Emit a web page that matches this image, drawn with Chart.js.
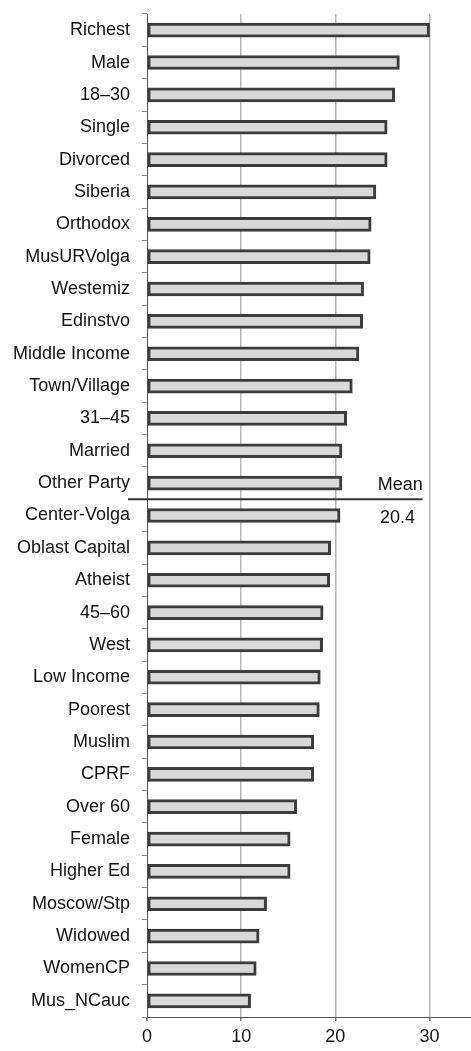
<!DOCTYPE html>
<html>
<head>
<meta charset="utf-8">
<script src="https://cdn.jsdelivr.net/npm/chart.js@4/dist/chart.umd.min.js"></script>
<style>
  html, body { margin: 0; padding: 0; background: #fff; }
  #wrap { width: 471px; height: 1051px; }
</style>
</head>
<body>
<div id="wrap"><canvas id="chart" width="471" height="1051"></canvas></div>
<script>
const categories = ['Richest', 'Male', '18\u201330', 'Single', 'Divorced', 'Siberia', 'Orthodox',
  'MusURVolga', 'Westemiz', 'Edinstvo', 'Middle Income', 'Town/Village', '31\u201345', 'Married',
  'Other Party', 'Center-Volga', 'Oblast Capital', 'Atheist', '45\u201360', 'West', 'Low Income',
  'Poorest', 'Muslim', 'CPRF', 'Over 60', 'Female', 'Higher Ed', 'Moscow/Stp', 'Widowed',
  'WomenCP', 'Mus_NCauc'];
const values = [30.0, 26.8, 26.3, 25.5, 25.5, 24.3, 23.8,
  23.7, 23.0, 22.9, 22.5, 21.8, 21.2, 20.7,
  20.7, 20.5, 19.5, 19.4, 18.7, 18.65, 18.4,
  18.3, 17.7, 17.7, 15.9, 15.2, 15.2, 12.7, 11.9,
  11.6, 11.0];
const xTicks = [0, 10, 20, 30];
const meanValue = 20.4;
const meanAfter = 'Other Party';

const FONT = "'Liberation Sans', Arial, sans-serif";

// horizontal mean line with labels, between two categories
const meanPlugin = {
  id: 'meanLine',
  afterDatasetsDraw(chart) {
    const { ctx, scales: { x, y } } = chart;
    const i = categories.indexOf(meanAfter);
    const yy = (y.getPixelForValue(i) + y.getPixelForValue(i + 1)) / 2;
    ctx.save();
    ctx.strokeStyle = '#333';
    ctx.lineWidth = 2;
    ctx.beginPath();
    ctx.moveTo(chart.chartArea.left - 19, yy);
    ctx.lineTo(x.getPixelForValue(29.25), yy);
    ctx.stroke();
    ctx.fillStyle = '#111';
    ctx.font = '18px ' + FONT;
    ctx.textAlign = 'center';
    ctx.textBaseline = 'bottom';
    ctx.fillText('Mean', x.getPixelForValue(26.9), yy - 5);
    ctx.textBaseline = 'top';
    ctx.fillText(meanValue.toFixed(1), x.getPixelForValue(26.6), yy + 10);
    ctx.restore();
  }
};

new Chart(document.getElementById('chart').getContext('2d'), {
  type: 'bar',
  data: {
    labels: categories,
    datasets: [{
      data: values,
      backgroundColor: '#d9d9d9',
      borderColor: '#3c3c3c',
      borderWidth: 3,
      borderSkipped: false,
      barThickness: 14
    }]
  },
  options: {
    indexAxis: 'y',
    responsive: false,
    animation: false,
    layout: { padding: { top: 14, right: 0, bottom: 0, left: 0 } },
    plugins: { legend: { display: false }, tooltip: { enabled: false } },
    scales: {
      x: {
        min: 0,
        max: 34.4,
        afterFit(scale) { scale.height = 34; scale.paddingLeft = 0; scale.paddingRight = 0; },
        afterBuildTicks(scale) { scale.ticks = xTicks.map(v => ({ value: v })); },
        ticks: {
          color: '#111',
          font: { family: FONT, size: 18 },
          padding: 5
        },
        grid: {
          color: ctx => ctx.tick && ctx.tick.value === 0 ? 'rgba(0,0,0,0)' : '#b5b5b5',
          lineWidth: 1.5,
          tickLength: 4,
          tickColor: '#777'
        },
        border: { display: true, color: '#555', width: 1 }
      },
      y: {
        afterFit(scale) { scale.width = 147; scale.paddingTop = 0; scale.paddingBottom = 0; },
        ticks: {
          color: '#111',
          font: { family: FONT, size: 18 },
          padding: 12
        },
        grid: {
          drawOnChartArea: false,
          offset: true,
          tickLength: 5,
          tickColor: '#888'
        },
        border: { display: true, color: '#555', width: 1 }
      }
    }
  },
  plugins: [meanPlugin]
});
</script>
</body>
</html>
